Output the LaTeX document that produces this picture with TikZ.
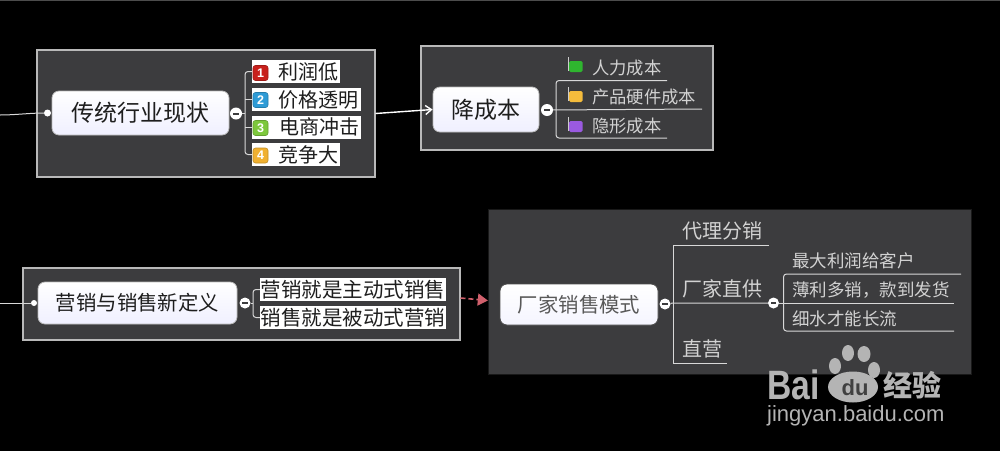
\documentclass[tikz,border=0pt]{standalone}
\usepackage{fontspec}
\setmainfont{Liberation Sans}
\newfontfamily\cjk{Noto Sans CJK SC}
\usetikzlibrary{arrows.meta,shadings}
\definecolor{panel}{HTML}{3C3C3E}
\definecolor{rim}{HTML}{B9B9B9}
\definecolor{linec}{HTML}{D8D8D8}
\definecolor{soft}{HTML}{D2D2D2}
\definecolor{ink}{HTML}{1E1E1E}
\definecolor{redarrow}{HTML}{D0606C}
\definecolor{wm}{HTML}{B4B4B4}
\definecolor{bred}{HTML}{C8201C}
\definecolor{bblue}{HTML}{2E9BD6}
\definecolor{bgreen}{HTML}{7DC83C}
\definecolor{borange}{HTML}{F0B030}
\definecolor{fgreen}{HTML}{2FB52F}
\definecolor{forange}{HTML}{F5BC3C}
\definecolor{fviolet}{HTML}{9A5AE0}
\tikzset{
  x=1pt,y=-1pt,
  panelbox/.style={draw=rim,line width=2pt,fill=panel,inner sep=0pt,minimum width=#1},
  topic/.style={rounded corners=7pt,draw=#1,line width=.8pt,top color=white,bottom color=blue!6!white,font=\cjk,text=ink,inner sep=0pt},
  dotnode/.style={circle,fill=white,inner sep=0pt,minimum size=7pt},
  minusnode/.style={circle,fill=white,inner sep=0pt,minimum size=#1,
    path picture={\fill[panel] ([xshift=-2.6pt,yshift=-1pt]path picture bounding box.center) rectangle ([xshift=2.6pt,yshift=1pt]path picture bounding box.center);}},
  whitelbl/.style={fill=white,inner sep=0pt},
  blacktxt/.style={font=\cjk\fontsize{20}{20}\selectfont,text=ink,inner sep=0pt,anchor=west},
  softtxt/.style={font=\cjk\fontsize{#1}{#1}\selectfont,text=soft,inner sep=0pt,anchor=west},
  badge/.style={rounded corners=2.5pt,fill=#1,draw=#1!80!black,line width=.6pt,minimum size=15pt,inner sep=0pt,text=white,font=\bfseries\fontsize{12.5}{12.5}\selectfont},
  conn/.style={draw=linec,line width=1pt,rounded corners=3pt},
}
\newcommand{\myflag}[4]{%
  \coordinate (#1) at (#2,#3);
  \draw[line width=1pt,black!20] ([xshift=-6.5pt,yshift=-5pt]#1) -- ([xshift=-6.5pt,yshift=9pt]#1);
  \fill[#4,rounded corners=1.5pt] ([xshift=-6pt,yshift=-6pt]#1) -- ([xshift=7.5pt,yshift=-6pt]#1) -- ([xshift=7.5pt,yshift=5pt]#1) -- ([xshift=-6pt,yshift=5pt]#1) -- cycle;}
\begin{document}
\begin{tikzpicture}
\fill[black] (0,0) rectangle (1000,451);
\useasboundingbox (0,0) rectangle (1000,451);
\fill[black!70] (0,0) rectangle (1000,1);

% panels
\node[panelbox=338pt,minimum height=127pt] (box1) at (205.5,113.5) {};
\node[panelbox=292pt,minimum height=104pt] (box2) at (567,98) {};
\node[panelbox=437pt,minimum height=72pt] (box3) at (241,304) {};
\node[panelbox=483pt,minimum height=165pt,draw=black!90,line width=.4pt] (box4) at (729.5,291.5) {};

% upper left group
\coordinate (inA) at (0,115);
\node[dotnode] (d1) at (47.5,113) {};
\draw[linec,line width=1pt] (inA) .. controls (15,115) and (30,113) .. (d1);
\node[topic=rim,minimum width=177pt,minimum height=44pt,font=\cjk\fontsize{23}{23}\selectfont] (t1) at (140.5,113) {传统行业现状};
\node[minusnode=12pt] (m1) at (236,113.5) {};
\node[whitelbl,minimum width=88pt,minimum height=23pt] (l1) at (296,71.5) {};
\node[whitelbl,minimum width=109pt,minimum height=23pt] (l2) at (306.5,99.5) {};
\node[whitelbl,minimum width=109pt,minimum height=23pt] (l3) at (306.5,127) {};
\node[whitelbl,minimum width=88pt,minimum height=23pt] (l4) at (296,154.5) {};
\node[badge=bred] (b1) at (260.5,73) {1};
\node[badge=bblue] (b2) at (260.5,100) {2};
\node[badge=bgreen] (b3) at (260.5,128) {3};
\node[badge=borange] (b4) at (260.5,155.5) {4};
\node[blacktxt] (lt1) at (278,71.5) {利润低};
\node[blacktxt] (lt2) at (278,99.5) {价格透明};
\node[blacktxt] (lt3) at (279,127) {电商冲击};
\node[blacktxt] (lt4) at (278,154.5) {竞争大};
\coordinate (j1) at (245,113.5);
\draw[conn] (l1.west) -- (j1|-l1.west) -- (j1|-l4.west) -- (l4.west);
\draw[conn] (m1) -- (j1);
\draw[linec,line width=.8pt] (j1|-l2.west) -- (l2.west);
\draw[linec,line width=.8pt] (j1|-l3.west) -- (l3.west);

% upper right group
\node[topic=rim,minimum width=106pt,minimum height=45pt,font=\cjk\fontsize{23}{23}\selectfont] (t2) at (486,109.5) {降成本};
\draw[white,line width=1.4pt,-{Straight Barb[length=6pt,width=9pt]}] (box1.east|-m1) -- (t2.west);
\node[minusnode=12pt] (m2) at (547,110) {};
\myflag{f1}{575}{66}{fgreen}
\myflag{f2}{575}{96}{forange}
\myflag{f3}{575}{126}{fviolet}
\node[softtxt=17.3] (u1) at (592,68) {人力成本};
\node[softtxt=17.3] (u2) at (592,97) {产品硬件成本};
\node[softtxt=17.3] (u3) at (592,126) {隐形成本};
\coordinate (e1) at (667,80.5);
\coordinate (e2) at (702,109);
\coordinate (e3) at (667,138);
\coordinate (j2) at (556,109);
\draw[conn] (e1) -- (j2|-e1) -- (j2|-e3) -- (e3);
\draw[linec,line width=1pt] (m2) -- (e2);

% lower left group
\coordinate (inB) at (0,303);
\node[dotnode,minimum size=6pt] (d3) at (34,303) {};
\draw[linec,line width=1pt] (inB) -- (d3);
\node[topic=rim,minimum width=199pt,minimum height=42pt,font=\cjk\fontsize{20.4}{20.4}\selectfont] (t3) at (137.5,303) {营销与销售新定义};
\node[minusnode=11pt] (m3) at (245,303) {};
\node[whitelbl,minimum width=186pt,minimum height=23pt,font=\cjk\fontsize{20.5}{23}\selectfont,text=ink] (n1) at (353,289.5) {营销就是主动式销售};
\node[whitelbl,minimum width=186pt,minimum height=23pt,font=\cjk\fontsize{20.5}{23}\selectfont,text=ink] (n2) at (353,317.5) {销售就是被动式营销};
\coordinate (j3) at (253,303);
\draw[conn] (n1.west) -- (j3|-n1.west) -- (j3|-n2.west) -- (n2.west);
\draw[linec,line width=.8pt] (m3) -- (j3);

% lower right group
\draw[redarrow,line width=1.6pt,dash pattern=on 5pt off 3pt,-{Triangle[length=10pt,width=12pt]}] (box3.east|-0,298) -- (box4.west|-0,300.5);
\node[rounded corners=7pt,draw=black!70,line width=.8pt,top color=white,bottom color=blue!4!white,font=\cjk\fontsize{20.4}{20.4}\selectfont,text=black!65,inner sep=0pt,minimum width=158pt,minimum height=41pt] (t4) at (579,304.5) {厂家销售模式};
\node[minusnode=11pt] (m4) at (665,304) {};
\node[minusnode=11pt] (m5) at (773.5,303) {};
\node[softtxt=20] (p1) at (682,231) {代理分销};
\node[softtxt=20] (p2) at (682,289) {厂家直供};
\node[softtxt=20] (p3) at (682,349) {直营};
\coordinate (g1) at (769,245);
\coordinate (g3) at (727,363);
\coordinate (j4) at (673.5,303);
\draw[linec,line width=1pt] (g1) -- (j4|-g1) -- (j4|-g3) -- (g3);
\draw[linec,line width=1pt] (m4) -- (j4) -- (m5);
\node[softtxt=17.5] (q1) at (792,261) {最大利润给客户};
\node[softtxt=17.5] (q2) at (792,290) {薄利多销，款到发货};
\node[softtxt=17.5] (q3) at (792,319) {细水才能长流};
\coordinate (h1) at (961,274);
\coordinate (h2) at (954,303);
\coordinate (h3) at (954,331);
\coordinate (j5) at (783.5,303);
\draw[conn] (h1) -- (j5|-h1) -- (j5|-h3) -- (h3);
\draw[linec,line width=1pt] (m5) -- (h2);

% watermark
\fill[wm] (848,353) ellipse [x radius=6,y radius=8];
\fill[wm] (864,354) ellipse [x radius=6.5,y radius=8];
\fill[wm] (835,366) ellipse [x radius=6,y radius=8];
\fill[wm] (874,370) ellipse [x radius=6,y radius=8];
\fill[wm] (853,387) ellipse [x radius=25,y radius=15.5];
\node[inner sep=0pt,font=\bfseries\fontsize{22}{22}\selectfont,text=black!75] (wdu) at (855,388) {du};
\node[inner sep=0pt,anchor=west,font=\bfseries\fontsize{41}{41}\selectfont,text=wm] (wbai) at (767,385) {\scalebox{.82}[1]{Bai}};
\node[inner sep=0pt,anchor=west,font=\cjk\bfseries\fontsize{29}{29}\selectfont,text=wm] (wjy) at (883,385) {经验};
\node[inner sep=0pt,anchor=west,font=\fontsize{22}{22}\selectfont,text=wm] (wurl) at (767,416) {jingyan.baidu.com};
\end{tikzpicture}
\end{document}
